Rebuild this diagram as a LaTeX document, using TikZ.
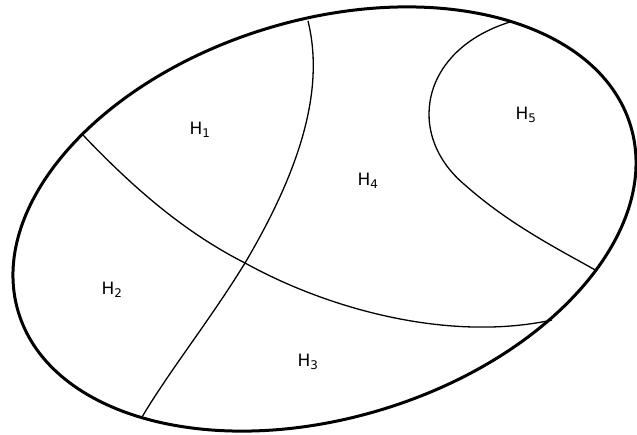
\documentclass[tikz,border=0pt]{standalone}
\usepackage{fontspec}
\setmainfont{DejaVu Sans}
\begin{document}
\begin{tikzpicture}[x=1pt,y=-1pt,
  outer/.style={line width=3pt},
  inner/.style={line width=1.3pt},
  lbl/.style={font=\fontsize{17}{19}\selectfont, inner sep=0pt}]
\useasboundingbox (0,0) rectangle (637,434);
\draw[outer] (324.5,219) ellipse[x radius=320, y radius=199, rotate=17];
\coordinate (a1) at (308,21);
\coordinate (x) at (245,263);
\coordinate (a2) at (142,417);
\coordinate (b1) at (83,135);
\coordinate (b2) at (552,320);
\coordinate (c1) at (510,22);
\coordinate (cm) at (465,185);
\coordinate (c2) at (597,271);
\draw[inner] (a1) .. controls (325,90) and (300,170) .. (x) .. controls (210,320) and (170,370) .. (a2);
\draw[inner] (b1) .. controls (140,195) and (190,235) .. (x) .. controls (330,310) and (450,342) .. (b2);
\draw[inner] (c1) .. controls (420,50) and (405,135) .. (cm) .. controls (510,225) and (560,250) .. (c2);
\node[lbl] (h1) at (200,130) {H\textsubscript{1}};
\node[lbl] (h2) at (112,290) {H\textsubscript{2}};
\node[lbl] (h3) at (308,362) {H\textsubscript{3}};
\node[lbl] (h4) at (368,181) {H\textsubscript{4}};
\node[lbl] (h5) at (526,115) {H\textsubscript{5}};
\end{tikzpicture}
\end{document}
